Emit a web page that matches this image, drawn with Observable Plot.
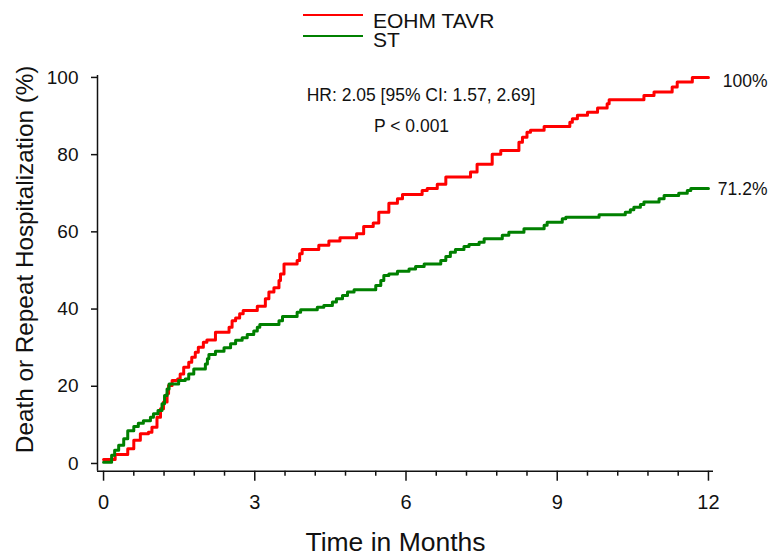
<!DOCTYPE html>
<html><head><meta charset="utf-8">
<script src="https://cdn.jsdelivr.net/npm/d3@7"></script>
<script src="https://cdn.jsdelivr.net/npm/@observablehq/plot@0.6"></script>
<style>
body{margin:0;background:#fff;font-family:"Liberation Sans",Arial,sans-serif;color:#111;}
#legend{position:relative;height:48px;width:774px;}
#legend .sw{position:absolute;left:303px;width:60px;height:2px;}
#legend .lb{position:absolute;left:373px;font-size:21px;line-height:16px;white-space:nowrap;}
svg{display:block;}
</style></head><body>
<div id="legend"></div>
<div id="chart"></div>
<script>
const seriesNames = ["EOHM TAVR", "ST"];
const seriesColors = ["#ff0000", "#008000"];

const eohmTime = [0, 0.23, 0.48, 0.60, 0.73, 0.89, 0.96, 1.06, 1.13, 1.19, 1.26, 1.29, 1.36, 1.47, 1.52, 1.59, 1.69, 1.75, 1.82, 1.88, 1.98, 2.05, 2.22, 2.49, 2.55, 2.62, 2.70, 2.77, 3.05, 3.21, 3.28, 3.38, 3.48, 3.51, 3.58, 3.84, 3.89, 3.94, 4.27, 4.47, 4.69, 5.02, 5.16, 5.35, 5.46, 5.66, 5.83, 5.93, 6.32, 6.42, 6.62, 6.79, 7.28, 7.41, 7.71, 7.88, 8.24, 8.31, 8.40, 8.47, 8.74, 9.25, 9.30, 9.40, 9.60, 9.80, 9.99, 10.03, 10.72, 10.92, 11.28, 11.38, 11.68, 12.0];
const eohmValue = [1.0, 2.3, 3.8, 6.0, 7.7, 8.1, 9.4, 12.0, 14.2, 15.9, 18.1, 20.2, 21.5, 21.9, 23.2, 24.9, 26.2, 27.5, 28.8, 30.1, 31.4, 32.0, 34.0, 35.3, 37.0, 37.7, 38.8, 39.6, 40.7, 42.7, 44.4, 45.5, 47.4, 49.1, 51.7, 52.6, 54.3, 55.4, 56.5, 57.6, 58.5, 59.5, 61.4, 62.3, 65.1, 67.4, 68.6, 69.7, 70.7, 71.2, 72.3, 74.2, 75.5, 77.5, 80.1, 81.1, 83.2, 84.5, 85.8, 86.3, 87.3, 88.4, 89.3, 90.2, 91.0, 92.1, 93.2, 94.2, 95.3, 96.2, 97.5, 98.8, 100, 100];

const stTime = [0, 0.16, 0.22, 0.30, 0.40, 0.48, 0.60, 0.69, 0.79, 0.93, 0.99, 1.08, 1.16, 1.21, 1.26, 1.30, 1.49, 1.62, 1.69, 1.79, 2.02, 2.06, 2.09, 2.22, 2.39, 2.52, 2.62, 2.75, 2.85, 2.98, 3.05, 3.10, 3.48, 3.55, 3.84, 3.91, 4.24, 4.37, 4.54, 4.62, 4.74, 4.84, 4.97, 5.40, 5.50, 5.56, 5.66, 5.83, 6.06, 6.19, 6.36, 6.69, 6.79, 6.88, 6.98, 7.15, 7.25, 7.45, 7.55, 7.91, 8.04, 8.34, 8.74, 8.80, 9.10, 9.17, 9.83, 10.35, 10.45, 10.52, 10.65, 10.72, 11.02, 11.12, 11.41, 11.58, 11.65, 12.0];
const stValue = [0.3, 2.1, 3.4, 4.7, 6.4, 8.5, 9.6, 10.4, 11.1, 12.0, 12.9, 13.7, 15.5, 17.6, 19.3, 20.6, 21.5, 21.9, 23.2, 24.5, 25.8, 27.1, 28.2, 29.1, 30.0, 31.0, 31.9, 32.6, 33.4, 34.3, 35.3, 36.0, 37.0, 38.1, 39.2, 39.8, 40.5, 40.9, 41.8, 42.7, 43.5, 44.4, 45.0, 46.1, 47.4, 48.7, 49.1, 49.8, 50.4, 51.0, 51.7, 52.6, 53.6, 54.7, 55.4, 56.2, 56.7, 57.3, 58.2, 59.1, 59.9, 60.8, 61.7, 62.5, 63.4, 63.8, 64.4, 65.1, 65.7, 66.4, 67.1, 67.7, 68.6, 69.4, 70.0, 70.7, 71.2, 71.2];

const xMajorTicks = [0, 3, 6, 9, 12];
const xMinorTicks = [0.6, 1.2, 1.8, 2.4, 3.6, 4.2, 4.8, 5.4, 6.6, 7.2, 7.8, 8.4, 9.6, 10.2, 10.8, 11.4];
const yTicks = [0, 20, 40, 60, 80, 100];
const xTitle = "Time in Months";
const yTitle = "Death or Repeat Hospitalization (%)";
const annotationText = ["HR: 2.05 [95% CI: 1.57, 2.69]", "P < 0.001"];
const annotationX = [4.03, 6.11];
const annotationY = [95.3, 87.2];
const annotationAnchor = ["start", "middle"];

const xDomain = [-0.12, 12.1];
const yDomain = [-2, 100.5];

// legend (HTML, above the SVG)
const legend = document.getElementById("legend");
const legendLineTop = [14, 35];
const legendTextTop = [13, 32];
seriesNames.forEach((name, i) => {
  const sw = document.createElement("div");
  sw.className = "sw";
  sw.style.top = legendLineTop[i] + "px";
  sw.style.background = seriesColors[i];
  legend.appendChild(sw);
  const lb = document.createElement("div");
  lb.className = "lb";
  lb.style.top = legendTextTop[i] + "px";
  lb.textContent = name;
  legend.appendChild(lb);
});

const rows = [
  ...eohmTime.map((t, i) => ({series: seriesNames[0], time: t, value: eohmValue[i]})),
  ...stTime.map((t, i) => ({series: seriesNames[1], time: t, value: stValue[i]}))
];
const redEnd = {series: seriesNames[0], time: eohmTime[eohmTime.length - 1], value: eohmValue[eohmValue.length - 1]};
const greenEnd = {series: seriesNames[1], time: stTime[stTime.length - 1], value: stValue[stValue.length - 1]};
const annotations = annotationText.map((t, i) => ({text: t, x: annotationX[i], y: annotationY[i], anchor: annotationAnchor[i]}));

const chart = Plot.plot({
  width: 774,
  height: 512,
  marginLeft: 97,
  marginRight: 61,
  marginTop: 27,
  marginBottom: 89.3,
  style: {fontFamily: '"Liberation Sans", Arial, sans-serif', color: "#111", background: "#fff"},
  x: {domain: xDomain},
  y: {domain: yDomain},
  color: {domain: seriesNames, range: seriesColors},
  marks: [
    Plot.axisY({ticks: yTicks, tickSize: 6, tickPadding: 13, fontSize: 19, label: null, stroke: "#111", strokeWidth: 1.5}),
    Plot.axisX({ticks: xMajorTicks, tickSize: 10, tickPadding: 14, fontSize: 20, label: null, stroke: "#111", strokeWidth: 1.5}),
    Plot.axisX({ticks: xMinorTicks, tickSize: 5, text: null, label: null, stroke: "#111", strokeWidth: 1.5}),
    Plot.ruleX([xDomain[0]], {stroke: "#111", strokeWidth: 1.5}),
    Plot.ruleY([yDomain[0]], {stroke: "#111", strokeWidth: 1.5}),
    Plot.line(rows, {x: "time", y: "value", z: "series", stroke: "series", curve: "step-after", strokeWidth: 3}),
    Plot.text([redEnd], {x: "time", y: "value", text: d => `${d.value}%`, textAnchor: "end", dx: 59, dy: 4, fontSize: 17.5, fill: "#111"}),
    Plot.text([greenEnd], {x: "time", y: "value", text: d => `${d.value}%`, textAnchor: "end", dx: 59, dy: 1, fontSize: 17.5, fill: "#111"}),
    Plot.text(annotations.filter(d => d.anchor === "start"), {x: "x", y: "y", text: "text", textAnchor: "start", fontSize: 17.5, fill: "#111"}),
    Plot.text(annotations.filter(d => d.anchor === "middle"), {x: "x", y: "y", text: "text", textAnchor: "middle", fontSize: 17.5, fill: "#111"}),
    Plot.text([xTitle], {frameAnchor: "bottom", textAnchor: "middle", lineAnchor: "middle", dx: -10, dy: 71, fontSize: 26.5, fill: "#111"}),
    Plot.text([yTitle], {frameAnchor: "left", textAnchor: "middle", lineAnchor: "middle", rotate: -90, dx: -72, dy: -14, fontSize: 24.3, fill: "#111"})
  ]
});
document.getElementById("chart").appendChild(chart);
</script>
</body></html>
